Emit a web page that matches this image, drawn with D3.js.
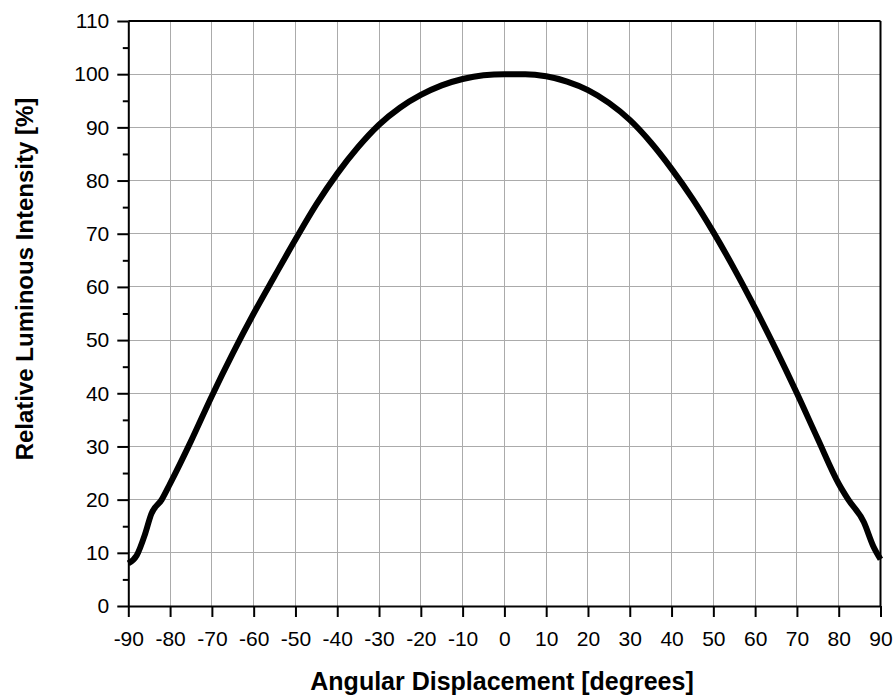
<!DOCTYPE html>
<html>
<head>
<meta charset="utf-8">
<script src="https://cdn.jsdelivr.net/npm/d3@7"></script>
<style>
  html, body { margin: 0; padding: 0; background: #fff; }
  svg { display: block; font-family: "Liberation Sans", Arial, sans-serif; }
</style>
</head>
<body>
<svg id="chart" width="895" height="698"></svg>
<script>
// Data
const angles = [-90, -88, -86, -84.5, -82, -80, -75, -70, -65, -60, -55, -50, -45, -40, -35, -30, -25, -20, -15, -10, -5, 0, 5, 10, 15, 20, 25, 30, 35, 40, 45, 50, 55, 60, 65, 70, 75, 80, 82.3, 86, 88.3, 90];
const intensity = [8.0, 9.5, 13.5, 17.3, 20, 23.0, 31.0, 39.5, 47.5, 55.0, 62.0, 68.9, 75.5, 81.3, 86.3, 90.5, 93.7, 96.1, 97.9, 99.1, 99.8, 100, 100, 99.6, 98.6, 97.0, 94.6, 91.4, 87.2, 82.2, 76.6, 70.3, 63.4, 56.0, 48.2, 40.0, 31.4, 23.0, 20, 15.8, 11.2, 8.8];
const xTicks = [-90, -80, -70, -60, -50, -40, -30, -20, -10, 0, 10, 20, 30, 40, 50, 60, 70, 80, 90];
const yTicks = [0, 10, 20, 30, 40, 50, 60, 70, 80, 90, 100, 110];
const yMinorTicks = [5, 15, 25, 35, 45, 55, 65, 75, 85, 95, 105];
const xTitle = "Angular Displacement [degrees]";
const yTitle = "Relative Luminous Intensity [%]";

const svg = d3.select("#chart");
const mLeft = 128.3, mRight = 880.5, mTop = 21, mBottom = 606;

const x = d3.scaleLinear().domain([-90, 90]).range([mLeft, mRight]);
const y = d3.scaleLinear().domain([0, 110]).range([mBottom, mTop]);

// grid
const grid = svg.append("g").attr("stroke", "#ababab").attr("stroke-width", 1).attr("shape-rendering", "crispEdges");
grid.selectAll("line.v").data(xTicks.filter(d => d > -90 && d < 90)).join("line")
  .attr("class", "v")
  .attr("x1", d => x(d)).attr("x2", d => x(d)).attr("y1", mTop).attr("y2", mBottom);
grid.selectAll("line.h").data(yTicks.filter(d => d > 0 && d < 110)).join("line")
  .attr("class", "h")
  .attr("x1", mLeft).attr("x2", mRight).attr("y1", d => y(d)).attr("y2", d => y(d));

const fmt = d => String(d);
// x axis
const xAxis = svg.append("g").attr("transform", `translate(0,${mBottom})`)
  .call(d3.axisBottom(x).tickValues(xTicks).tickFormat(fmt).tickSize(11).tickPadding(14).tickSizeOuter(0));
// y axis
const yAxis = svg.append("g").attr("transform", `translate(${mLeft},0)`)
  .call(d3.axisLeft(y).tickValues(yTicks).tickFormat(fmt).tickSize(11).tickPadding(8).tickSizeOuter(0));
const yMinor = svg.append("g").attr("transform", `translate(${mLeft},0)`)
  .call(d3.axisLeft(y).tickValues(yMinorTicks).tickSize(5.5).tickFormat(""));
yMinor.select(".domain").remove();

[xAxis, yAxis, yMinor].forEach(g => {
  g.selectAll("path.domain").attr("stroke", "#000").attr("stroke-width", 2);
  g.selectAll(".tick line").attr("stroke", "#000").attr("stroke-width", 2);
  g.selectAll(".tick text").attr("fill", "#000").style("font-size", "21px")
    .style("font-family", '"Liberation Sans", Arial, sans-serif');
});

// top and right frame
svg.append("line").attr("x1", mLeft).attr("x2", mRight).attr("y1", mTop).attr("y2", mTop)
  .attr("stroke", "#000").attr("stroke-width", 2);
svg.append("line").attr("x1", mRight).attr("x2", mRight).attr("y1", mTop).attr("y2", mBottom)
  .attr("stroke", "#000").attr("stroke-width", 2);

// curve
const pts = angles.map((a, i) => [a, intensity[i]]);
svg.append("path").datum(pts)
  .attr("fill", "none").attr("stroke", "#000").attr("stroke-width", 6)
  .attr("stroke-linejoin", "round")
  .attr("d", d3.line().x(d => x(d[0])).y(d => y(d[1])).curve(d3.curveMonotoneX));

// titles
svg.append("text").attr("x", 502).attr("y", 690).attr("text-anchor", "middle")
  .style("font-size", "25px").style("font-weight", "bold").text(xTitle);
svg.append("text").attr("transform", "translate(33,279) rotate(-90)").attr("text-anchor", "middle")
  .style("font-size", "24px").style("font-weight", "bold").text(yTitle);
</script>
</body>
</html>
